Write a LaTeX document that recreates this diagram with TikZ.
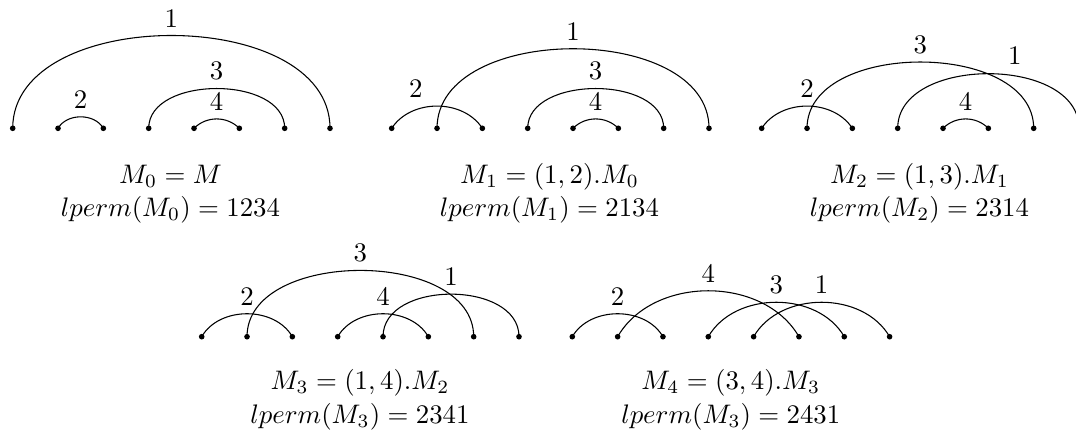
\documentclass[tikz,border=0pt]{standalone}
\begin{document}
\begin{tikzpicture}[x=0.3731pt, y=-0.3731pt,
  dot/.style={circle, fill=black, inner sep=0pt, minimum size=2.1pt},
  tall/.style={out=90, in=90, looseness=1},
  flat/.style={out=60, in=120},
  flatb/.style={out=57, in=123},
  low/.style={out=45, in=135},
  lbl/.style={midway, above, inner sep=2.9pt},
  captxt/.style={anchor=base, inner sep=0pt}]
\useasboundingbox (0,0) rectangle (1076,435);

\foreach \k/\ox/\oy in {0/12.7/128.3, 1/391.7/128.3, 2/761.7/128.3, 3/201.7/336.7, 4/572.3/336.7}{
  \foreach \i in {1,...,8}{
    \node[dot] (d\k-\i) at ({\ox+(\i-1)*45.33},\oy) {};
  }
}

% M0
\draw (d0-1.center) to[tall] node[lbl] {1} (d0-8.center);
\draw (d0-2.center) to[flat] node[lbl] {2} (d0-3.center);
\draw (d0-4.center) to[tall] node[lbl] {3} (d0-7.center);
\draw (d0-5.center) to[low] node[lbl] {4} (d0-6.center);

% M1
\draw (d1-1.center) to[flatb] node[lbl, xshift=-7.9pt] {2} (d1-3.center);
\draw (d1-2.center) to[tall] node[lbl] {1} (d1-8.center);
\draw (d1-4.center) to[tall] node[lbl] {3} (d1-7.center);
\draw (d1-5.center) to[low] node[lbl] {4} (d1-6.center);

% M2
\draw (d2-1.center) to[flatb] node[lbl] {2} (d2-3.center);
\draw (d2-2.center) to[tall] node[lbl] {3} (d2-7.center);
\draw (d2-4.center) to[tall, looseness=1.03] node[lbl, xshift=9.9pt, yshift=0.5pt] {1} (d2-8.center);
\draw (d2-5.center) to[low] node[lbl] {4} (d2-6.center);

% M3
\draw (d3-1.center) to[flat] node[lbl] {2} (d3-3.center);
\draw (d3-2.center) to[tall] node[lbl] {3} (d3-7.center);
\draw (d3-4.center) to[flat] node[lbl] {4} (d3-6.center);
\draw (d3-5.center) to[tall, looseness=1.07] node[lbl] {1} (d3-8.center);

% M4
\draw (d4-1.center) to[flat] node[lbl] {2} (d4-3.center);
\draw (d4-2.center) to[flat] node[lbl] {4} (d4-6.center);
\draw (d4-4.center) to[flat] node[lbl] {3} (d4-7.center);
\draw (d4-5.center) to[flat] node[lbl] {1} (d4-8.center);

% captions
\node[captxt] (c0a) at (170.5,183.3) {$M_0 = M$};
\node[captxt] (c0b) at (170.5,216.7) {$lperm(M_0) = 1234$};
\node[captxt] (c1a) at (549.5,183.3) {$M_1 = (1,2).M_0$};
\node[captxt] (c1b) at (549.5,216.7) {$lperm(M_1) = 2134$};
\node[captxt] (c2a) at (919.5,183.3) {$M_2 = (1,3).M_1$};
\node[captxt] (c2b) at (919.5,216.7) {$lperm(M_2) = 2314$};
\node[captxt] (c3a) at (360,389.5) {$M_3 = (1,4).M_2$};
\node[captxt] (c3b) at (360,423) {$lperm(M_3) = 2341$};
\node[captxt] (c4a) at (730.8,389.5) {$M_4 = (3,4).M_3$};
\node[captxt] (c4b) at (730.8,423) {$lperm(M_3) = 2431$};
\end{tikzpicture}
\end{document}
